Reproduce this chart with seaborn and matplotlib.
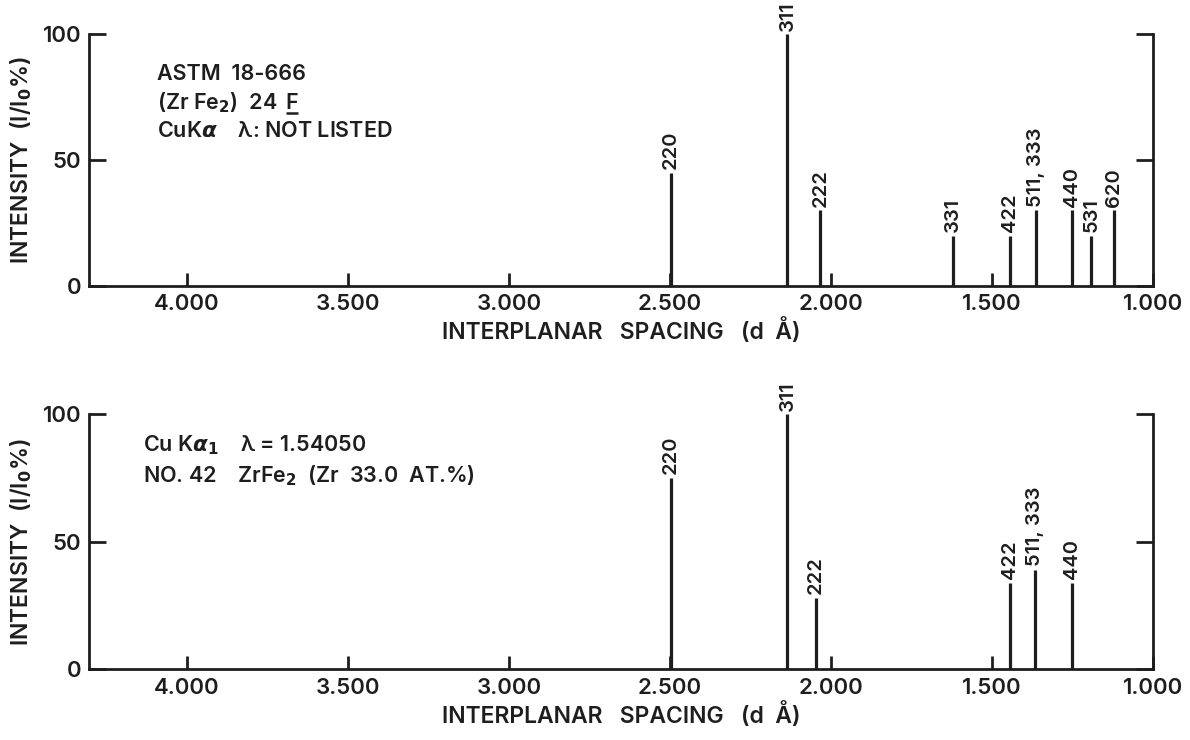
import numpy as np
import pandas as pd
import matplotlib
matplotlib.use("Agg")
import matplotlib.pyplot as plt
import seaborn as sns

# ---------------- data ----------------
x_ticks = [4.0, 3.5, 3.0, 2.5, 2.0, 1.5, 1.0]
x_tick_labels = ["4.000", "3.500", "3.000", "2.500", "2.000", "1.500", "1.000"]
y_ticks = [0, 50, 100]
y_tick_labels = ["0", "50", "100"]

# ASTM 18-666 (ZrFe2) reference pattern
astm_d = [2.496, 2.135, 2.033, 1.621, 1.443, 1.362, 1.252, 1.192, 1.121]
astm_I = [45, 100, 30, 20, 20, 30, 30, 20, 30]
astm_hkl = ["220", "311", "222", "331", "422", "511, 333", "440", "531", "620"]

# Sample No. 42 ZrFe2 (Zr 33.0 at.%)
s42_d = [2.498, 2.135, 2.047, 1.444, 1.366, 1.252]
s42_I = [75, 100, 28, 34, 39, 34]
s42_hkl = ["220", "311", "222", "422", "511, 333", "440"]

top_notes = ["ASTM  18-666", r"(Zr Fe$_2$)  24", r"CuK$\alpha$    λ: NOT LISTED"]
top_underlined = "F"
bottom_notes = [r"Cu K$\alpha_1$    λ = 1.54050", r"NO. 42    ZrFe$_2$  (Zr  33.0  AT.%)"]

x_label = "INTERPLANAR   SPACING   (d  Å)"
y_label = "INTENSITY  (I/I$_0$%)"

# ---------------- style ----------------
sns.set_theme(style="ticks")
plt.rcParams["font.family"] = ["Inter", "DejaVu Sans"]
plt.rcParams["font.weight"] = "semibold"
plt.rcParams["axes.labelweight"] = "semibold"
plt.rcParams["mathtext.fontset"] = "dejavusans"
ink = "#1e1e1e"
FS = 15.5
W = "semibold"

fig = plt.figure(figsize=(11.9, 7.4), dpi=100)
fig.patch.set_facecolor("white")
ax1 = fig.add_axes([0.0752, 0.6135, 0.8937, 0.3405])
ax2 = fig.add_axes([0.0752, 0.0955, 0.8937, 0.345])


def draw_panel(ax, d, inten, hkl, notes, note_x, note_y):
    n = len(d)
    df = pd.DataFrame({
        "d": np.repeat(np.asarray(d, float), 2),
        "I": np.column_stack([np.zeros(n), np.asarray(inten, float)]).ravel(),
        "peak": np.repeat(np.arange(n), 2),
    })
    sns.lineplot(data=df, x="d", y="I", units="peak", estimator=None, sort=False,
                 color=ink, linewidth=2.3, ax=ax, legend=False)
    for ln in ax.lines:
        ln.set_clip_on(False)
        ln.set_solid_capstyle("butt")
    for di, ii, lab in zip(d, inten, hkl):
        ax.annotate(lab, xy=(di, ii), xytext=(0, 2.5), textcoords="offset points",
                    rotation=90, ha="center", va="bottom", fontsize=14.5,
                    fontweight=W, color=ink, annotation_clip=False)
    ax.set_xlim(4.302, 1.0)
    ax.set_ylim(0, 100)
    ax.set_xticks(x_ticks)
    ax.set_xticklabels(x_tick_labels)
    ax.set_yticks(y_ticks)
    ax.set_yticklabels(y_tick_labels)
    ax.set_xlabel(x_label, fontsize=16.5, fontweight=W, color=ink, labelpad=3)
    ax.set_ylabel(y_label, fontsize=16.5, fontweight=W, color=ink, labelpad=6)
    ax.set_facecolor("white")
    ax.spines["top"].set_visible(False)
    for s in ["left", "right", "bottom"]:
        ax.spines[s].set_visible(True)
        ax.spines[s].set_linewidth(2.0)
        ax.spines[s].set_color(ink)
    ax.tick_params(axis="x", direction="in", length=9.5, width=2.0, pad=6,
                   labelsize=16, colors=ink, top=False)
    ax.tick_params(axis="y", which="major", direction="in", length=12, width=2.0,
                   pad=6, labelsize=16, colors=ink, left=True, right=True,
                   labelright=False)
    ax.grid(False)
    texts = []
    for txt, yy in zip(notes, note_y):
        texts.append(ax.text(note_x, yy, txt, transform=ax.transAxes, fontsize=FS,
                             fontweight=W, color=ink, ha="left", va="baseline"))
    return texts


t_top = draw_panel(ax1, astm_d, astm_I, astm_hkl, top_notes, 0.0635,
                   [0.817, 0.702, 0.590])
draw_panel(ax2, s42_d, s42_I, s42_hkl, bottom_notes, 0.050, [0.852, 0.734])

# underlined "F" after "(Zr Fe2) 24"
fig.canvas.draw()
inv = ax1.transAxes.inverted()
bb_line = t_top[1].get_window_extent().transformed(inv)
f_txt = ax1.text(bb_line.x1 + 0.008, 0.702, top_underlined, transform=ax1.transAxes,
                 fontsize=FS, fontweight=W, color=ink, ha="left", va="baseline")
fig.canvas.draw()
bb_f = f_txt.get_window_extent().transformed(inv)
ax1.plot([bb_f.x0, bb_f.x1], [0.702 - 0.014, 0.702 - 0.014],
         transform=ax1.transAxes, color=ink, linewidth=1.8, clip_on=False,
         solid_capstyle="butt")

fig.savefig("out.png", dpi=100, facecolor="white")
